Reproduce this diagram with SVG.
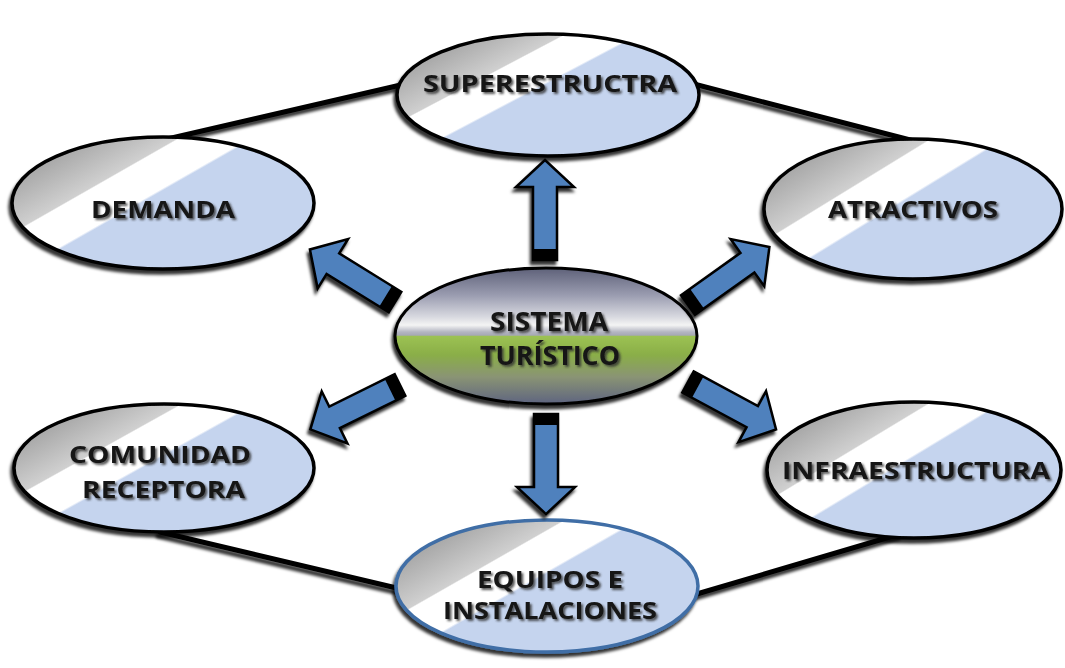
<svg xmlns="http://www.w3.org/2000/svg" width="1065" height="668" viewBox="0 0 1065 668">
<defs>
<linearGradient id="gOuter" x1="0" y1="0" x2="1.11" y2="0.85">
<stop offset="0" stop-color="#8a8a8a"/>
<stop offset="0.15" stop-color="#a9a9a9"/>
<stop offset="0.315" stop-color="#d0d0d0"/>
<stop offset="0.32" stop-color="#ffffff"/>
<stop offset="0.452" stop-color="#ffffff"/>
<stop offset="0.46" stop-color="#c5d4ee"/>
<stop offset="1" stop-color="#c5d4ee"/>
</linearGradient>
<linearGradient id="gCenter" x1="0" y1="0" x2="0" y2="1">
<stop offset="0" stop-color="#5e6179"/>
<stop offset="0.2" stop-color="#9a9cb0"/>
<stop offset="0.36" stop-color="#d8d9e0"/>
<stop offset="0.42" stop-color="#f4f4f4"/>
<stop offset="0.47" stop-color="#b4b6c2"/>
<stop offset="0.495" stop-color="#a6a8b4"/>
<stop offset="0.5" stop-color="#9cc253"/>
<stop offset="0.64" stop-color="#8aae48"/>
<stop offset="0.8" stop-color="#8a9474"/>
<stop offset="1" stop-color="#5e6480"/>
</linearGradient>
<filter id="shadow" x="-10%" y="-10%" width="120%" height="130%">
<feDropShadow dx="-2" dy="4" stdDeviation="1.5" flood-color="#000" flood-opacity="0.8"/>
</filter>
<filter id="tshadow" x="-5%" y="-20%" width="115%" height="150%">
<feDropShadow dx="2" dy="2" stdDeviation="1" flood-color="#333" flood-opacity="0.8"/>
</filter>
<g id="arrow">
<polygon points="0,-12 73,-12 73,-29 100,0 73,29 73,12 0,12" fill="#4f81bd" stroke="#000" stroke-width="2.5" stroke-linejoin="miter"/>
<rect x="0" y="-12" width="11" height="24" fill="#000"/>
</g>
<style>
.node{fill:url(#gOuter);stroke:#000;stroke-width:3.5;filter:url(#shadow)}
.lbl{font-family:"Open Sans","Liberation Sans",sans-serif;font-weight:700;font-size:24px;fill:#161616;filter:url(#tshadow)}
.conn{stroke:#000;stroke-width:5;stroke-linecap:round;fill:none;filter:url(#shadow)}
</style>
</defs>
<rect width="1065" height="668" fill="#fff"/>
<g id="connectors">
<line class="conn" x1="405" y1="84" x2="163" y2="140"/>
<line class="conn" x1="690" y1="83" x2="918" y2="142"/>
<line class="conn" x1="159" y1="265" x2="159" y2="410"/>
<line class="conn" x1="922" y1="275" x2="922" y2="408"/>
<line class="conn" x1="160" y1="532" x2="405" y2="590"/>
<line class="conn" x1="900" y1="534" x2="690" y2="596"/>
</g>
<g id="superestructra">
<ellipse class="node" cx="548" cy="95" rx="151" ry="61"/>
<text class="lbl" x="423" y="92" textLength="254" lengthAdjust="spacingAndGlyphs">SUPERESTRUCTRA</text>
</g>
<g id="demanda">
<ellipse class="node" cx="163" cy="203" rx="151" ry="66"/>
<text class="lbl" x="91" y="218" textLength="144" lengthAdjust="spacingAndGlyphs">DEMANDA</text>
</g>
<g id="atractivos">
<ellipse class="node" cx="913" cy="209" rx="149" ry="70"/>
<text class="lbl" x="828" y="218" textLength="170" lengthAdjust="spacingAndGlyphs">ATRACTIVOS</text>
</g>
<g id="comunidad">
<ellipse class="node" cx="164" cy="468" rx="150" ry="64"/>
<text class="lbl" x="69" y="463" textLength="182" lengthAdjust="spacingAndGlyphs">COMUNIDAD</text>
<text class="lbl" x="82" y="498" textLength="163" lengthAdjust="spacingAndGlyphs">RECEPTORA</text>
</g>
<g id="infraestructura">
<ellipse class="node" cx="914" cy="470" rx="147" ry="68"/>
<text class="lbl" x="782" y="479" textLength="268" lengthAdjust="spacingAndGlyphs">INFRAESTRUCTURA</text>
</g>
<g id="equipos">
<ellipse class="node" cx="547" cy="586" rx="151" ry="66" style="stroke:#3f6ea6"/>
<text class="lbl" x="477" y="588" textLength="146" lengthAdjust="spacingAndGlyphs">EQUIPOS E</text>
<text class="lbl" x="443" y="619" textLength="214" lengthAdjust="spacingAndGlyphs">INSTALACIONES</text>
</g>
<g id="sistema">
<ellipse cx="546" cy="336" rx="151" ry="68" fill="url(#gCenter)" stroke="#000" stroke-width="3" filter="url(#shadow)"/>
<text class="lbl" x="490" y="331" textLength="118" lengthAdjust="spacingAndGlyphs" style="font-size:26px">SISTEMA</text>
<text class="lbl" x="480" y="365" textLength="140" lengthAdjust="spacingAndGlyphs" style="font-size:26px">TURÍSTICO</text>
</g>
<g id="arrows" filter="url(#shadow)">
<use href="#arrow" transform="translate(545,260) rotate(-90)"/>
<use href="#arrow" transform="translate(546,414) rotate(90)"/>
<use href="#arrow" transform="translate(395,302) rotate(-148.3)"/>
<use href="#arrow" transform="translate(400,385) rotate(153.7)"/>
<use href="#arrow" transform="translate(688,305) rotate(-35.5)"/>
<use href="#arrow" transform="translate(688,382) rotate(28.3)"/>
</g>
</svg>
